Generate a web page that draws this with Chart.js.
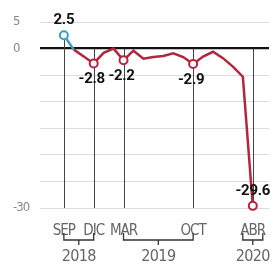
<!DOCTYPE html>
<html><head><meta charset="utf-8">
<script src="https://cdn.jsdelivr.net/npm/chart.js@4"></script>
<style>html,body{margin:0;padding:0;background:#fff}#w{width:275px;height:265px;position:relative}</style>
</head><body><div id="w"><canvas id="c"></canvas></div>
<script>
const months = ['SEP','OCT','NOV','DIC','ENE','FEB','MAR','ABR','MAY','JUN','JUL','AGO','SEP','OCT','NOV','DIC','ENE','FEB','MAR','ABR'];
const values = [2.5,-0.2,-1.5,-2.8,-0.8,0.0,-2.2,-0.4,-1.9,-1.6,-1.4,-0.9,-1.6,-2.9,-1.5,-0.6,-1.8,-3.4,-5.3,-29.6];
const labeledIdx = [0,3,6,13,19];
const yTickLabels = [5,0,-30];
const yearLabels = ['2018','2019','2020'];
const yearFrom = [0,6,19];
const yearTo = [3,13,19];

const TEAL = '#3aa0c2', RED = '#b3263d';
const labelFont = "'Liberation Sans Narrow','DejaVu Sans Condensed','Liberation Sans',sans-serif";

const overlay = {
  id: 'overlay',
  beforeDraw(chart) { chart.ctx.letterSpacing = '-1px'; },
  beforeDatasetsDraw(chart) {
    const {ctx, scales: {x, y}, chartArea} = chart;
    ctx.save();
    ctx.strokeStyle = '#444';
    ctx.lineWidth = 1;
    labeledIdx.forEach(i => {
      const px = Math.round(x.getPixelForValue(i)) + 0.5;
      ctx.beginPath();
      ctx.moveTo(px, y.getPixelForValue(Math.max(values[i], 0)));
      ctx.lineTo(px, chartArea.bottom);
      ctx.stroke();
    });
    ctx.restore();
  },
  afterDraw(chart) {
    const {ctx, scales: {x, y}, chartArea} = chart;
    ctx.save();
    ctx.letterSpacing = '-0.3px';
    ctx.font = "bold 15px Roboto, 'Liberation Sans', sans-serif";
    ctx.fillStyle = '#111';
    ctx.textAlign = 'center';
    ctx.textBaseline = 'middle';
    labeledIdx.forEach((i, k) => {
      const px = x.getPixelForValue(i), py = y.getPixelForValue(values[i]);
      const above = values[i] > 0 || k === labeledIdx.length - 1;
      const dx = above ? 0 : -2;
      ctx.fillText(String(values[i]), px + dx, above ? py - 15 : py + 16);
    });
    const b = chartArea.bottom;
    ctx.letterSpacing = '-0.6px';
    ctx.strokeStyle = '#333';
    ctx.lineWidth = 1.3;
    ctx.font = "16px " + labelFont;
    ctx.fillStyle = '#666';
    yearLabels.forEach((lab, k) => {
      let x0 = x.getPixelForValue(yearFrom[k]), x1 = x.getPixelForValue(yearTo[k]);
      if (x1 - x0 < 20) { const c = (x0 + x1) / 2; x0 = c - 10; x1 = c + 10; }
      const cx = (x0 + x1) / 2;
      ctx.beginPath();
      ctx.moveTo(x0, b + 25); ctx.lineTo(x0, b + 32); ctx.lineTo(x1, b + 32); ctx.lineTo(x1, b + 25);
      ctx.moveTo(cx, b + 32); ctx.lineTo(cx, b + 37);
      ctx.stroke();
      ctx.fillText(lab, cx, b + 49);
    });
    ctx.restore();
    ctx.letterSpacing = '0px';
  }
};

new Chart(document.getElementById('c'), {
  type: 'line',
  data: {
    datasets: [{
      data: values.map((v, i) => ({x: i, y: v})),
      borderColor: RED,
      borderWidth: 2.5,
      tension: 0,
      clip: false,
      segment: { borderColor: c => c.p0DataIndex === 0 ? TEAL : RED },
      pointRadius: c => labeledIdx.includes(c.dataIndex) ? 4 : 0,
      pointBackgroundColor: '#fff',
      pointBorderColor: c => c.dataIndex === 0 ? TEAL : RED,
      pointBorderWidth: 2
    }]
  },
  options: {
    responsive: true,
    maintainAspectRatio: false,
    animation: false,
    devicePixelRatio: 1,
    layout: { padding: { left: 13, top: 22, right: 0, bottom: 0 } },
    plugins: { legend: { display: false }, tooltip: { enabled: false } },
    scales: {
      x: {
        type: 'linear', min: -2.4, max: 20.63,
        grid: { display: false }, border: { display: false },
        afterBuildTicks: s => { s.ticks = labeledIdx.map(v => ({value: v})); },
        afterFit: s => { s.height = 57; },
        ticks: {
          autoSkip: false, maxRotation: 0, padding: 6,
          color: '#666', font: { family: labelFont, size: 15 },
          callback: v => labeledIdx.includes(v) ? months[v] : ''
        }
      },
      y: {
        min: -30, max: 5,
        border: { display: false },
        afterFit: s => { s.width = 27; },
        grid: {
          drawTicks: false,
          color: c => c.tick && c.tick.value === 0 ? '#111' : '#dcdcdc',
          lineWidth: c => c.tick && c.tick.value === 0 ? 2.2 : 1
        },
        ticks: {
          stepSize: 5, crossAlign: 'far', padding: 0,
          color: '#888', font: { family: labelFont, size: 13 },
          callback: v => yTickLabels.includes(v) ? String(v) : ''
        }
      }
    }
  },
  plugins: [overlay]
});
</script>
</body></html>
